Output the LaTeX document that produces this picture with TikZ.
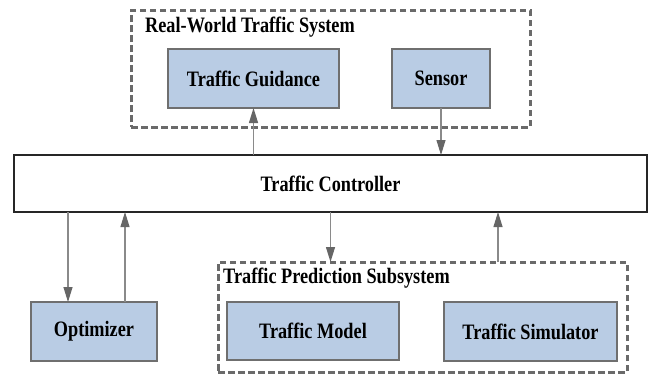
\documentclass[tikz,border=0pt]{standalone}
\usepackage{fontspec}
\setmainfont{Liberation Serif}
\newfontfamily\diagfont{Liberation Serif Bold}[FakeStretch=0.83]
\usetikzlibrary{arrows.meta,calc}
\definecolor{boxfill}{HTML}{B9CCE4}
\definecolor{boxline}{HTML}{6F6F6F}
\definecolor{dashline}{HTML}{6A6A6A}
\definecolor{arrline}{HTML}{8A8A8A}
\definecolor{arrhead}{HTML}{666666}
\tikzset{
  lbl/.style={font=\diagfont\fontsize{22}{26}\selectfont, text=black},
  bluebox/.style={lbl, draw=boxline, fill=boxfill, line width=2pt, inner sep=0pt, outer sep=0pt},
  ctrlbox/.style={lbl, draw=black!85, fill=white, line width=2.2pt, inner sep=0pt, outer sep=0pt},
  groupbox/.style={draw=dashline, line width=3pt, dash pattern=on 6.5pt off 3.5pt, inner sep=0pt, outer sep=0pt},
  grouptitle/.style={lbl, inner sep=0pt, anchor=west},
  conn/.style={draw=arrline, line width=1.1pt, -{Triangle[length=15pt,width=9pt,color=arrhead,fill=arrhead]}},
}
\begin{document}
\begin{tikzpicture}[x=1pt,y=-1pt]
\useasboundingbox (0,0) rectangle (653,373);
% group boxes
\node[groupbox, minimum width=399, minimum height=117] (rw) at (330.5,68.5) {};
\node[grouptitle] (rwt) at (145,27) {Real-World Traffic System};
\node[groupbox, minimum width=409, minimum height=110] (pred) at (422.5,317) {};
\node[grouptitle] (predt) at (223,278) {Traffic Prediction Subsystem};
% boxes
\node[bluebox, minimum width=171, minimum height=59] (guid) at (253.5,78.5) {Traffic Guidance};
\node[bluebox, minimum width=98, minimum height=59] (sens) at (441,78.5) {Sensor};
\node[ctrlbox, minimum width=633, minimum height=57] (ctrl) at (330.5,183.5) {Traffic Controller};
\node[bluebox, minimum width=126, minimum height=59] (opt) at (94,331.5) {Optimizer};
\node[bluebox, minimum width=172, minimum height=58] (model) at (313,331) {Traffic Model};
\node[bluebox, minimum width=173, minimum height=59] (sim) at (530.5,331.5) {Traffic Simulator};
% connectors
\draw[conn] (ctrl.north -| guid.south) -- (guid.south);
\draw[conn] (sens.south) -- (ctrl.north -| sens.south);
\draw[conn] (ctrl.south) -- (ctrl.south |- pred.north);
\coordinate (predin) at ($(pred.north)+(75.5,0)$);
\draw[conn] (predin) -- (ctrl.south -| predin);
\coordinate (optin) at ($(opt.north)+(-26,0)$);
\coordinate (optout) at ($(opt.north)+(31,0)$);
\draw[conn] (ctrl.south -| optin) -- (optin);
\draw[conn] (optout) -- (ctrl.south -| optout);
\end{tikzpicture}
\end{document}
